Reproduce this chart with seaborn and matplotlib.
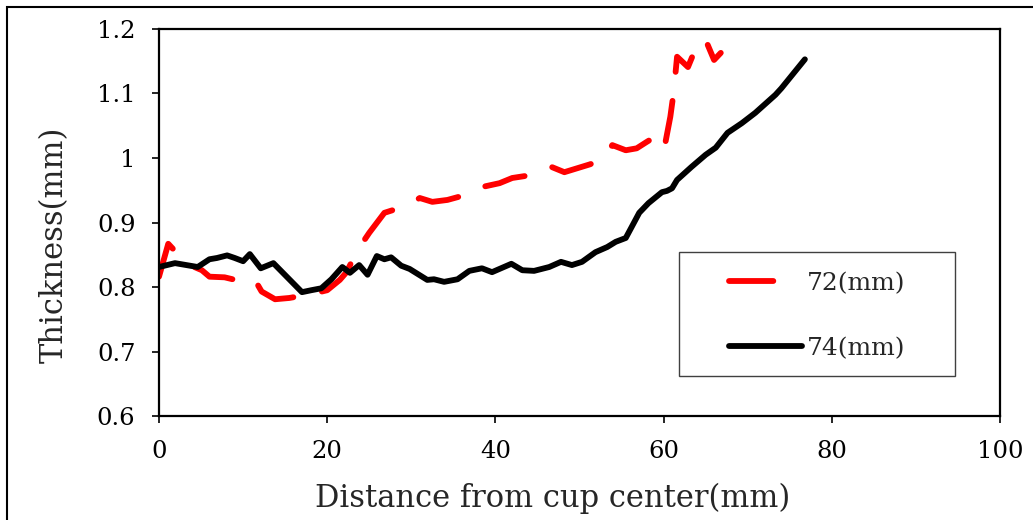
import matplotlib
matplotlib.use("Agg")
import matplotlib.pyplot as plt
from matplotlib.patches import Rectangle
from matplotlib.lines import Line2D
import seaborn as sns
import pandas as pd

# ---- data ----
x72 = [0, 1.1, 2.1, 3.5, 5.1, 6, 7.8, 9.4, 10.5, 11.4, 12.2, 13.8, 15.5, 16.8,
       18.1, 20, 21.5, 22.3, 23.6, 25, 26.8, 28, 29.2, 31, 32.5, 34.3, 35.7,
       37.1, 38.4, 40.5, 42, 43.5, 45, 46.7, 48.2, 49.7, 51.2, 52.7, 53.9,
       55.5, 56.8, 58, 59, 59.7, 60.2, 60.8, 61.2, 61.6, 62.9, 63.5, 64.2,
       65, 66, 66.8]
y72 = [0.816, 0.867, 0.853, 0.835, 0.826, 0.816, 0.815, 0.810, 0.810, 0.811,
       0.793, 0.781, 0.783, 0.786, 0.789, 0.795, 0.811, 0.823, 0.857, 0.884,
       0.915, 0.920, 0.924, 0.938, 0.932, 0.935, 0.940, 0.947, 0.955, 0.961,
       0.969, 0.972, 0.977, 0.986, 0.978, 0.984, 0.990, 0.997, 1.020, 1.012,
       1.015, 1.025, 1.033, 1.015, 1.023, 1.064, 1.102, 1.157, 1.141, 1.160,
       1.180, 1.183, 1.152, 1.163]

x74 = [0, 1.9, 4.6, 6, 6.9, 8.1, 9, 10, 10.8, 12.1, 13.6, 17, 18.1, 19.3,
       20.5, 21.8, 22.7, 23.8, 24.8, 25.9, 26.8, 27.6, 28.8, 29.8, 31.9, 32.7,
       33.9, 35.5, 36.9, 38.4, 39.6, 41.9, 43.2, 44.6, 46.4, 47.8, 49.1, 50.3,
       51.9, 53.3, 54.3, 55.5, 56.2, 57.1, 58.2, 59.8, 60.4, 61, 61.6, 63.3,
       65, 66.2, 67.6, 69.3, 70.9, 73.3, 74, 76.8]
y74 = [0.831, 0.837, 0.831, 0.843, 0.845, 0.849, 0.845, 0.840, 0.851, 0.829,
       0.837, 0.792, 0.795, 0.798, 0.812, 0.831, 0.822, 0.834, 0.819, 0.848,
       0.843, 0.846, 0.833, 0.828, 0.811, 0.812, 0.808, 0.812, 0.825, 0.829,
       0.823, 0.836, 0.826, 0.825, 0.831, 0.839, 0.834, 0.839, 0.854, 0.862,
       0.870, 0.876, 0.893, 0.915, 0.930, 0.947, 0.949, 0.953, 0.966, 0.986,
       1.005, 1.016, 1.039, 1.054, 1.070, 1.098, 1.108, 1.153]

labels = ["72(mm)", "74(mm)"]
xticks = [0, 20, 40, 60, 80, 100]
yticks = [0.6, 0.7, 0.8, 0.9, 1.0, 1.1, 1.2]
ytick_labels = ["0.6", "0.7", "0.8", "0.9", "1", "1.1", "1.2"]

sns.set_style("white")
plt.rcParams["font.family"] = ["DejaVu Serif"]

df72 = pd.DataFrame({"x": x72, "y": y72})
df74 = pd.DataFrame({"x": x74, "y": y74})

LW = 4.2
fig = plt.figure(figsize=(10.33, 5.2), dpi=100)
ax = fig.add_axes([159 / 1033, 1 - 416 / 520, (1000 - 159) / 1033, (416 - 29) / 520])

sns.lineplot(data=df72, x="x", y="y", ax=ax, color="#ff0000", linewidth=LW,
             linestyle=(0, (7, 5)), dash_capstyle="round", dash_joinstyle="round",
             estimator=None, legend=False)
sns.lineplot(data=df74, x="x", y="y", ax=ax, color="black", linewidth=LW,
             solid_capstyle="round", solid_joinstyle="round", estimator=None,
             legend=False)

ax.set_xlim(0, 100)
ax.set_ylim(0.6, 1.2)
ax.set_xticks(xticks)
ax.set_xticklabels([str(t) for t in xticks])
ax.set_yticks(yticks)
ax.set_yticklabels(ytick_labels)
ax.tick_params(axis="both", direction="out", length=5, width=1.2, labelsize=17.5,
               pad=12, colors="black", left=True, bottom=True)
for s in ax.spines.values():
    s.set_visible(True)
    s.set_color("black")
    s.set_linewidth(1.6)

ax.set_xlabel("Distance from cup center(mm)", fontsize=22)
ax.set_ylabel("Thickness(mm)", fontsize=22)
ax.xaxis.set_label_coords((553 - 159) / 841, (416 - 483) / 387)
ax.yaxis.set_label_coords((70 - 159) / 841, (416 - 245) / 387)

# legend box
ax.add_patch(Rectangle(((679 - 159) / 841, (416 - 376) / 387),
                       (955 - 679) / 841, (376 - 252) / 387,
                       transform=ax.transAxes, fill=True, facecolor="white",
                       edgecolor="#404040", linewidth=1.0, zorder=5))
handles = [
    Line2D([], [], color="#ff0000", linewidth=LW, linestyle=(0, (7.6, 6)),
           dash_capstyle="round"),
    Line2D([], [], color="black", linewidth=LW, solid_capstyle="round"),
]
leg = ax.legend(handles=handles, labels=labels, loc="upper left",
                bbox_to_anchor=((729 - 159) / 841, (416 - 272) / 387),
                frameon=False, fontsize=18, borderpad=0, borderaxespad=0,
                handlelength=2.9, handletextpad=0.2, labelspacing=1.68)
leg.set_zorder(6)

# outer figure frame
fig.patches.append(Rectangle((7 / 1033, -0.05), 1.1, (520 - 7) / 520 + 0.05,
                             transform=fig.transFigure, fill=False,
                             edgecolor="black", linewidth=1.5))

fig.savefig("out.png", dpi=100)
